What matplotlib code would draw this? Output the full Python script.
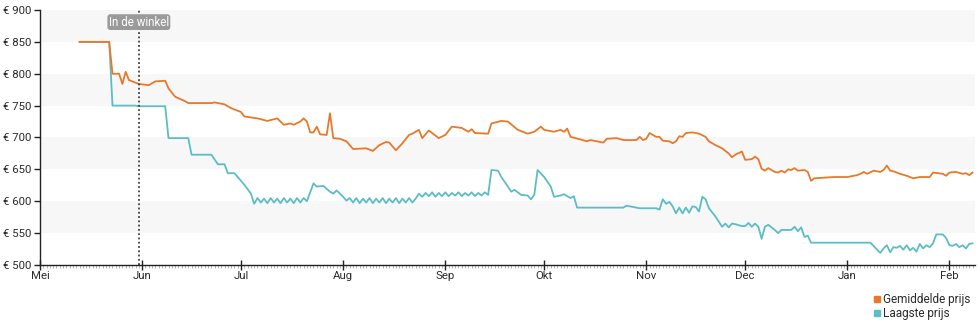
import numpy as np
import pandas as pd
import matplotlib
matplotlib.use('Agg')
import matplotlib.pyplot as plt
import matplotlib.dates as mdates
from matplotlib.lines import Line2D

plt.rcParams['font.family'] = ['Roboto', 'DejaVu Sans']

#%% data
avg_dates = ['2023-05-13', '2023-05-22', '2023-05-23', '2023-05-25', '2023-05-26', '2023-05-27', '2023-05-28',
             '2023-05-31', '2023-06-03', '2023-06-05', '2023-06-08', '2023-06-09', '2023-06-11', '2023-06-14',
             '2023-06-15', '2023-06-22', '2023-06-23', '2023-06-26', '2023-06-28', '2023-07-01', '2023-07-02',
             '2023-07-06', '2023-07-09', '2023-07-12', '2023-07-14', '2023-07-16', '2023-07-17', '2023-07-19',
             '2023-07-20', '2023-07-21', '2023-07-22', '2023-07-23', '2023-07-24', '2023-07-25', '2023-07-27',
             '2023-07-28', '2023-07-29', '2023-07-31', '2023-08-02', '2023-08-04', '2023-08-08', '2023-08-10',
             '2023-08-12', '2023-08-14', '2023-08-15', '2023-08-17', '2023-08-19', '2023-08-21', '2023-08-22',
             '2023-08-24', '2023-08-25', '2023-08-27', '2023-08-28', '2023-08-30', '2023-09-01', '2023-09-03',
             '2023-09-06', '2023-09-08', '2023-09-09', '2023-09-10', '2023-09-14', '2023-09-15', '2023-09-18',
             '2023-09-20', '2023-09-23', '2023-09-26', '2023-09-28', '2023-09-30', '2023-10-01', '2023-10-04',
             '2023-10-06', '2023-10-07', '2023-10-08', '2023-10-09', '2023-10-12', '2023-10-14', '2023-10-15',
             '2023-10-19', '2023-10-20', '2023-10-23', '2023-10-25', '2023-10-29', '2023-10-30', '2023-10-31',
             '2023-11-01', '2023-11-02', '2023-11-04', '2023-11-05', '2023-11-06', '2023-11-08', '2023-11-09',
             '2023-11-10', '2023-11-11', '2023-11-12', '2023-11-13', '2023-11-15', '2023-11-17', '2023-11-19',
             '2023-11-20', '2023-11-22', '2023-11-24', '2023-11-26', '2023-11-27', '2023-11-28', '2023-11-30',
             '2023-12-01', '2023-12-03', '2023-12-04', '2023-12-05', '2023-12-06', '2023-12-07', '2023-12-08',
             '2023-12-10', '2023-12-11', '2023-12-12', '2023-12-13', '2023-12-14', '2023-12-15', '2023-12-16',
             '2023-12-17', '2023-12-19', '2023-12-20', '2023-12-21', '2023-12-22', '2023-12-28', '2024-01-01',
             '2024-01-04', '2024-01-05', '2024-01-06', '2024-01-07', '2024-01-09', '2024-01-11', '2024-01-12',
             '2024-01-13', '2024-01-14', '2024-01-15', '2024-01-17', '2024-01-19', '2024-01-21', '2024-01-23',
             '2024-01-26', '2024-01-27', '2024-01-30', '2024-01-31', '2024-02-01', '2024-02-03', '2024-02-05',
             '2024-02-06', '2024-02-07', '2024-02-08']
avg_price = [850, 850, 800, 800, 784, 803, 790,
             784, 782, 788, 789, 777, 764, 757,
             754, 754, 755, 752, 746, 740, 733,
             730, 726, 730, 720, 722, 720, 725,
             730, 725, 708, 708, 717, 705, 704,
             738, 699, 698, 694, 682, 683, 679,
             688, 693, 692, 680, 691, 704, 706,
             712, 699, 711, 707, 699, 704, 717,
             715, 709, 713, 707, 706, 722, 726,
             725, 712, 706, 709, 717, 712, 709,
             712, 709, 714, 701, 697, 694, 696,
             692, 698, 699, 696, 696, 701, 696,
             698, 707, 701, 701, 695, 694, 691,
             694, 702, 701, 707, 708, 706, 701,
             694, 688, 683, 675, 669, 673, 678,
             665, 666, 670, 666, 651, 648, 652,
             646, 645, 648, 645, 650, 649, 652,
             648, 649, 646, 632, 636, 638, 638,
             641, 643, 646, 643, 648, 646, 649,
             656, 648, 647, 643, 640, 636, 638,
             638, 645, 643, 640, 645, 646, 643,
             644, 641, 645]

low_dates = ['2023-05-13', '2023-05-22', '2023-05-23', '2023-05-30', '2023-05-31', '2023-06-08', '2023-06-09',
             '2023-06-15', '2023-06-16', '2023-06-22', '2023-06-24', '2023-06-26', '2023-06-27', '2023-06-29',
             '2023-07-02', '2023-07-04', '2023-07-05', '2023-07-06', '2023-07-07', '2023-07-08', '2023-07-09',
             '2023-07-10', '2023-07-11', '2023-07-12', '2023-07-13', '2023-07-14', '2023-07-15', '2023-07-16',
             '2023-07-17', '2023-07-18', '2023-07-19', '2023-07-20', '2023-07-21', '2023-07-23', '2023-07-24',
             '2023-07-26', '2023-07-28', '2023-07-29', '2023-07-30', '2023-08-01', '2023-08-02', '2023-08-03',
             '2023-08-04', '2023-08-05', '2023-08-06', '2023-08-07', '2023-08-08', '2023-08-09', '2023-08-10',
             '2023-08-11', '2023-08-12', '2023-08-13', '2023-08-14', '2023-08-15', '2023-08-16', '2023-08-17',
             '2023-08-18', '2023-08-19', '2023-08-20', '2023-08-21', '2023-08-22', '2023-08-23', '2023-08-24',
             '2023-08-25', '2023-08-26', '2023-08-27', '2023-08-28', '2023-08-29', '2023-08-30', '2023-08-31',
             '2023-09-01', '2023-09-02', '2023-09-03', '2023-09-04', '2023-09-05', '2023-09-06', '2023-09-07',
             '2023-09-08', '2023-09-09', '2023-09-10', '2023-09-11', '2023-09-12', '2023-09-13', '2023-09-14',
             '2023-09-15', '2023-09-17', '2023-09-18', '2023-09-20', '2023-09-21', '2023-09-22', '2023-09-24',
             '2023-09-26', '2023-09-27', '2023-09-28', '2023-09-29', '2023-10-01', '2023-10-03', '2023-10-04',
             '2023-10-06', '2023-10-07', '2023-10-09', '2023-10-10', '2023-10-11', '2023-10-25', '2023-10-26',
             '2023-10-30', '2023-11-04', '2023-11-05', '2023-11-06', '2023-11-07', '2023-11-08', '2023-11-09',
             '2023-11-10', '2023-11-11', '2023-11-12', '2023-11-13', '2023-11-14', '2023-11-15', '2023-11-16',
             '2023-11-17', '2023-11-18', '2023-11-19', '2023-11-20', '2023-11-22', '2023-11-23', '2023-11-24',
             '2023-11-25', '2023-11-26', '2023-11-27', '2023-11-28', '2023-11-30', '2023-12-01', '2023-12-02',
             '2023-12-03', '2023-12-04', '2023-12-05', '2023-12-06', '2023-12-07', '2023-12-08', '2023-12-10',
             '2023-12-11', '2023-12-12', '2023-12-15', '2023-12-16', '2023-12-17', '2023-12-18', '2023-12-19',
             '2023-12-20', '2023-12-21', '2024-01-08', '2024-01-11', '2024-01-12', '2024-01-13', '2024-01-14',
             '2024-01-15', '2024-01-16', '2024-01-17', '2024-01-18', '2024-01-19', '2024-01-20', '2024-01-21',
             '2024-01-22', '2024-01-23', '2024-01-24', '2024-01-25', '2024-01-26', '2024-01-27', '2024-01-28',
             '2024-01-30', '2024-01-31', '2024-02-01', '2024-02-02', '2024-02-03', '2024-02-04', '2024-02-05',
             '2024-02-06', '2024-02-07', '2024-02-08']
low_price = [850, 850, 750, 750, 749, 749, 699,
             699, 673, 673, 658, 658, 644, 644,
             626, 612, 596, 605, 598, 604, 597,
             605, 598, 604, 597, 605, 598, 604,
             597, 605, 598, 605, 600, 628, 623,
             624, 615, 612, 617, 607, 601, 605,
             598, 605, 597, 604, 598, 605, 597,
             604, 598, 605, 597, 604, 598, 605,
             597, 604, 598, 605, 598, 604, 612,
             607, 613, 608, 614, 607, 613, 608,
             614, 608, 613, 609, 614, 608, 613,
             609, 614, 608, 613, 609, 614, 610,
             649, 648, 638, 623, 615, 618, 610,
             609, 603, 610, 649, 638, 623, 607,
             609, 611, 605, 608, 590, 590, 593,
             589, 589, 587, 603, 596, 599, 592,
             581, 590, 581, 590, 582, 592, 591,
             584, 607, 603, 589, 576, 568, 560,
             565, 559, 565, 564, 561, 561, 566,
             560, 565, 560, 541, 560, 563, 555,
             550, 555, 555, 560, 553, 559, 544,
             546, 535, 535, 519, 526, 531, 520,
             528, 527, 530, 524, 531, 523, 527,
             521, 533, 526, 531, 528, 534, 548,
             548, 542, 531, 530, 533, 528, 531,
             526, 533, 534]

store_date = '2023-05-31'
month_labels = ['Mei', 'Jun', 'Jul', 'Aug', 'Sep', 'Okt', 'Nov', 'Dec', 'Jan', 'Feb']

avg_dates = pd.to_datetime(avg_dates)
low_dates = pd.to_datetime(low_dates)

c_avg = '#e8792b'
c_low = '#5cbdc6'
fs = 8.2

#%% plot
fig = plt.figure(figsize=(9.8, 3.25), dpi=100)
ax = fig.add_axes([40/980, 60/325, 935/980, 255/325])

for lo in [550, 650, 750, 850]:
    ax.axhspan(lo, lo + 50, color='#f7f7f7', lw=0, zorder=0)

ax.plot(low_dates, low_price, color=c_low, lw=1.3, zorder=3)
ax.plot(avg_dates, avg_price, color=c_avg, lw=1.3, zorder=3)

sd = pd.Timestamp(store_date)
ax.axvline(sd, color='#222222', lw=1.1, linestyle=(0, (1.2, 1.6)), zorder=4)
ax.text(sd, 881, 'In de winkel', ha='center', va='center', color='white', fontsize=8.3, zorder=5,
        bbox=dict(boxstyle='round,pad=0.12,rounding_size=0.25', fc='#9a9a9a', ec='none'))

ax.set_ylim(500, 900)
ax.set_xlim(pd.Timestamp('2023-05-01'), pd.Timestamp('2024-02-08 18:00'))
ax.set_yticks(np.arange(500, 901, 50))
ax.set_yticklabels([f'€ {v}' for v in range(500, 901, 50)])

month_ticks = pd.date_range('2023-05-01', '2024-02-01', freq='MS')
ax.set_xticks(month_ticks)
ax.set_xticklabels(month_labels)
ax.xaxis.set_minor_locator(mdates.DayLocator())

ax.tick_params(axis='y', direction='out', length=4, width=1, labelsize=fs, colors='#222222', pad=2)
ax.tick_params(axis='x', which='major', direction='inout', length=7, width=1, labelsize=fs,
               colors='#222222', pad=0.5)
ax.tick_params(axis='x', which='minor', direction='out', length=2, width=0.6, color='#aaaaaa')
for lbl in ax.get_yticklabels() + ax.get_xticklabels():
    lbl.set_color('#2a2a2a')

for s in ['top', 'right']:
    ax.spines[s].set_visible(False)
for s in ['left', 'bottom']:
    ax.spines[s].set_color('#222222')
    ax.spines[s].set_linewidth(1)

handles = [Line2D([], [], marker='s', ls='none', color=c_avg, markersize=5),
           Line2D([], [], marker='s', ls='none', color=c_low, markersize=5)]
fig.legend(handles, ['Gemiddelde prijs', 'Laagste prijs'], loc='upper left',
           bbox_to_anchor=(866/980, 0.12), frameon=False, fontsize=8.5,
           handlelength=0.6, handletextpad=0.25, labelspacing=0.05, borderpad=0.1,
           labelcolor='#2a2a2a')

fig.savefig('out.png', dpi=100)
